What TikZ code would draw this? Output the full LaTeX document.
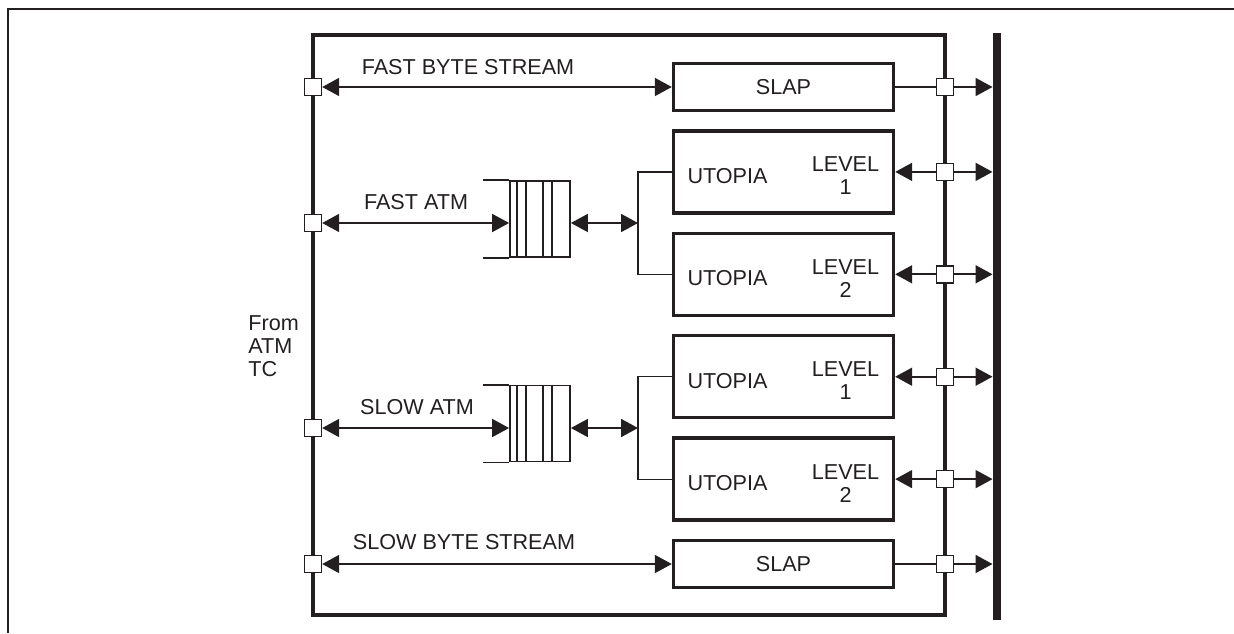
\documentclass[tikz,border=0pt]{standalone}
\usepackage{fontspec}
\setmainfont{Liberation Sans}
\usepackage{tikz}
\usetikzlibrary{arrows.meta,positioning,calc}
\definecolor{ink}{HTML}{231F20}
\newcommand{\fs}{\fontsize{10.8}{11.5}\selectfont}
\newcommand{\fifolines}[1]{%
  \draw[fifoline] ([xshift=-13pt]#1.north west) -- (#1.north west);
  \draw[fifoline] ([xshift=-13pt]#1.south west) -- (#1.south west);
  \draw[fifoline] ([xshift=4pt]#1.north west) -- ([xshift=4pt]#1.south west);
  \draw[fifoline] ([xshift=8.5pt]#1.north west) -- ([xshift=8.5pt]#1.south west);
  \draw[fifoline] ([xshift=17pt]#1.north west) -- ([xshift=17pt]#1.south west);
  \draw[fifoline] ([xshift=21.5pt]#1.north west) -- ([xshift=21.5pt]#1.south west);}
\tikzset{
  blk/.style={rectangle, draw=ink, line width=1.7pt, minimum width=110pt,
              minimum height=41pt, inner sep=0pt, font=\fs, text=ink},
  slapbox/.style={blk, minimum height=23.5pt},
  mainbox/.style={rectangle, draw=ink, line width=1.6pt, minimum width=316pt,
                  minimum height=290pt, inner sep=0pt, outer sep=0pt},
  port/.style={rectangle, draw=ink, fill=white, line width=0.7pt,
               minimum size=8.5pt, inner sep=0pt},
  fifo/.style={rectangle, draw=ink, line width=0.9pt, minimum width=30pt,
               minimum height=38pt, inner sep=0pt},
  fifoline/.style={line width=0.9pt, draw=ink},
  lbl/.style={font=\fs, text=ink, inner sep=0pt},
  arr/.style={-{Triangle[length=8.5pt,width=9pt]}, line width=0.9pt, draw=ink},
  darr/.style={{Triangle[length=8.5pt,width=9pt]}-{Triangle[length=8.5pt,width=9pt]},
               line width=0.9pt, draw=ink},
  wire/.style={line width=0.9pt, draw=ink},
  fine/.style={line width=0.6pt, draw=ink},
}
\begin{document}
\begin{tikzpicture}[x=0.5pt, y=-0.5pt, node distance=8.5pt]
    \useasboundingbox (0,0) rectangle (1234,633);
    \draw[line width=1.1pt, draw=ink] (1234,9) -- (8,9) -- (8,633);
    \node[mainbox] (blkM) at (629,325) {};
    \node[fill=ink, minimum width=4pt, minimum height=293.5pt, inner sep=0pt, outer sep=0pt] (bus) at (996.5,326.5) {};
    % interface blocks
    \node[slapbox] (slapF) at (783.5,87) {SLAP};
    \node[blk, below=of slapF] (utoA) {};
    \node[blk, below=of utoA] (utoB) {};
    \node[blk, below=of utoB] (utoC) {};
    \node[blk, below=of utoC] (utoD) {};
    \node[slapbox, below=of utoD] (slapS) {SLAP};
    \node[lbl] (utoAn) at ([xshift=-28pt,yshift=-2pt]utoA.center) {UTOPIA};
    \node[lbl, align=center] (utoAl) at ([xshift=31pt,yshift=-2pt]utoA.center) {LEVEL\\1};
    \node[lbl] (utoBn) at ([xshift=-28pt,yshift=-2pt]utoB.center) {UTOPIA};
    \node[lbl, align=center] (utoBl) at ([xshift=31pt,yshift=-2pt]utoB.center) {LEVEL\\2};
    \node[lbl] (utoCn) at ([xshift=-28pt,yshift=-2pt]utoC.center) {UTOPIA};
    \node[lbl, align=center] (utoCl) at ([xshift=31pt,yshift=-2pt]utoC.center) {LEVEL\\1};
    \node[lbl] (utoDn) at ([xshift=-28pt,yshift=-2pt]utoD.center) {UTOPIA};
    \node[lbl, align=center] (utoDl) at ([xshift=31pt,yshift=-2pt]utoD.center) {LEVEL\\2};
    % queues
    \node[fifo] (fifoF) at (540,219) {};
    \node[fifo] (fifoS) at (540,423.5) {};
    \fifolines{fifoF}
    \fifolines{fifoS}
    \coordinate (brF) at (638,223);
    \coordinate (brS) at (638,428);
    % ports
    \node[port] (pL1) at (blkM.west |- slapF) {};
    \node[port] (pL2) at (313,223) {};
    \node[port] (pL3) at (313,428) {};
    \node[port] (pL4) at (blkM.west |- slapS) {};
    \node[port] (pR1) at (blkM.east |- slapF) {};
    \node[port] (pR2) at (blkM.east |- utoA) {};
    \node[port] (pR3) at (blkM.east |- utoB) {};
    \node[port] (pR4) at (blkM.east |- utoC) {};
    \node[port] (pR5) at (blkM.east |- utoD) {};
    \node[port] (pR6) at (blkM.east |- slapS) {};
    % left side
    \draw[darr] (pL1) -- (slapF.west);
    \draw[darr] (pL2) -- (pL2 -| fifoF.west);
    \draw[darr] (pL2 -| fifoF.east) -- (brF);
    \draw[fine] (utoA.west) -| (brF) |- (utoB.west);
    \draw[darr] (pL3) -- (pL3 -| fifoS.west);
    \draw[darr] (pL3 -| fifoS.east) -- (brS);
    \draw[fine] (utoC.west) -| (brS) |- (utoD.west);
    \draw[darr] (pL4) -- (slapS.west);
    % right side
    \draw[wire] (slapF) -- (pR1);
    \draw[arr] (pR2) -- (utoA.east);
    \draw[arr] (pR3) -- (utoB.east);
    \draw[arr] (pR4) -- (utoC.east);
    \draw[arr] (pR5) -- (utoD.east);
    \draw[wire] (slapS) -- (pR6);
    \draw[arr] (pR1) -- (pR1 -| bus.west);
    \draw[arr] (pR2) -- (pR2 -| bus.west);
    \draw[arr] (pR3) -- (pR3 -| bus.west);
    \draw[arr] (pR4) -- (pR4 -| bus.west);
    \draw[arr] (pR5) -- (pR5 -| bus.west);
    \draw[arr] (pR6) -- (pR6 -| bus.west);
    % labels
    \node[lbl] (tFBS) at (468,67) {FAST BYTE STREAM};
    \node[lbl] (tFA) at (416,202) {FAST ATM};
    \node[lbl] (tSA) at (417,407) {SLOW ATM};
    \node[lbl] (tSBS) at (464,542) {SLOW BYTE STREAM};
    \node[lbl, align=left, anchor=west, font=\fontsize{10.8}{11.5}\selectfont] (tSrc) at (248,346) {From\\ATM\\TC};
  \end{tikzpicture}
\end{document}
